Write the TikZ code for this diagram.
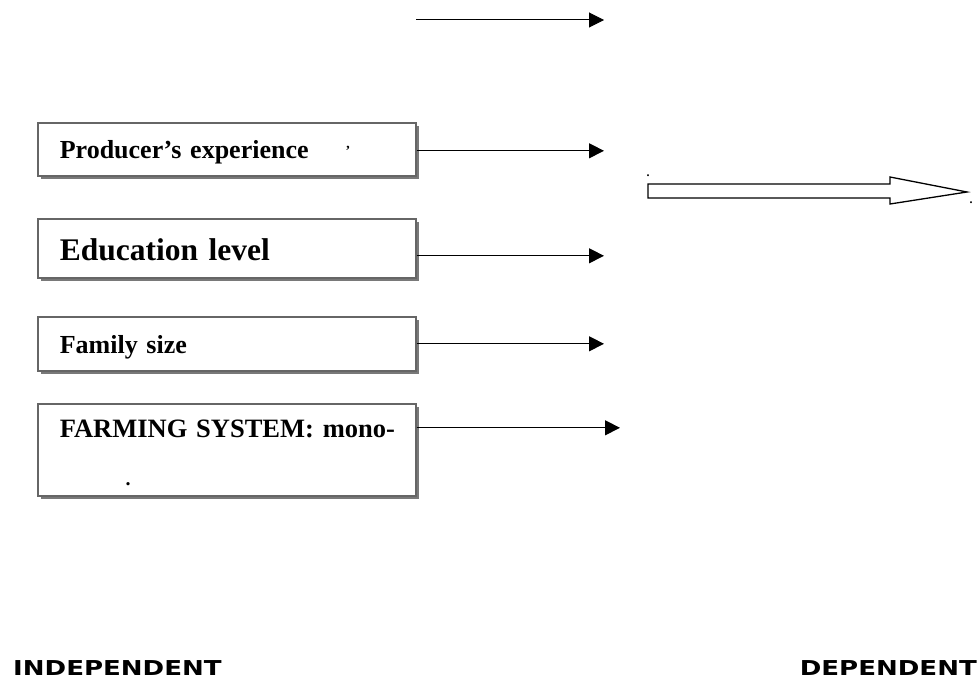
\documentclass[tikz,border=0pt]{standalone}
\usepackage{fontspec}
\setmainfont{Liberation Serif}
\newfontfamily\capsfont[FakeStretch=1.27]{DejaVu Sans}
\usetikzlibrary{shadows,arrows.meta}
\tikzset{
	varbox/.style={draw=gray!80!black, line width=1.6pt, fill=white, rectangle,
		minimum width=378pt, text width=334pt, inner xsep=22pt, align=left,
		font=\bfseries, anchor=north west,
		drop shadow={shadow xshift=3.5pt, shadow yshift=-3.5pt, fill=gray!95!black, opacity=1}},
	conn/.style={line width=1pt, -{Triangle[length=15pt,width=15pt]}},
	speck/.style={inner sep=0pt, font=\fontsize{9}{9}\selectfont},
	caption/.style={inner sep=0pt, font=\capsfont\bfseries\fontsize{20.5}{24}\selectfont}
}

\begin{document}
\begin{tikzpicture}[x=1pt,y=1pt]
		\useasboundingbox (0,0) rectangle (979,-685);
		% column where the small arrows end
		\coordinate (tipx) at (604,0);
		\coordinate (tipy) at (620,0);

		% Draw the independent variable boxes
		\node[varbox, minimum height=53pt, text height=19pt, text depth=0pt,
			font=\fontsize{26}{30}\selectfont\bfseries] (prod) at (37,-122) {Producer’s experience};
		\node[varbox, minimum height=59pt, text height=25pt, text depth=0pt,
			font=\fontsize{31.5}{36}\selectfont\bfseries] (edu) at (37,-218) {Education level};
		\node[varbox, minimum height=54pt, text height=20pt, text depth=0pt,
			font=\fontsize{26}{30}\selectfont\bfseries] (fam) at (37,-316) {Family size};
		\node[varbox, minimum height=92pt, text height=3pt, text depth=27pt,
			font=\fontsize{26.5}{30}\selectfont\bfseries] (farm) at (37,-403) {\mbox{FARMING SYSTEM: mono-}};

		% stray marks
		\node[speck, font=\fontsize{14}{14}\selectfont\bfseries] (tick) at (348,-151) {'};
		\node[speck, font=\fontsize{20}{20}\selectfont\bfseries, anchor=base] (farmdot) at (128,-485) {.};
		\node[speck, font=\fontsize{12}{12}\selectfont\bfseries] (dota) at (648,-176) {.};
		\node[speck, font=\fontsize{12}{12}\selectfont\bfseries] (dotb) at (971,-203) {.};

		% -----------------------------------------------------
		\coordinate (s0) at (416,-20);
		\draw[conn] (s0) -- (s0 -| tipx);
		\draw[conn] ([yshift=-1.5pt]prod.east) -- ([yshift=-1.5pt]prod.east -| tipx);
		\draw[conn] ([yshift=-7.5pt]edu.east) -- ([yshift=-7.5pt]edu.east -| tipx);
		\draw[conn] (fam.east) -- (fam.east -| tipx);
		\draw[conn] ([yshift=22pt]farm.east) -- ([yshift=22pt]farm.east -| tipy);

		% big hollow arrow
		\draw[line width=1.3pt, fill=white] (648,-184) -- (890,-184) -- (890,-177) -- (967,-192)
			-- (890,-204) -- (890,-198) -- (648,-198) -- cycle;

		% -----------------------------------------------------
		\node[caption, anchor=base west] (indep) at (13,-675) {INDEPENDENT};
		\node[caption, anchor=base east] (dep) at (977,-675) {DEPENDENT};

		\end{tikzpicture}
\end{document}
